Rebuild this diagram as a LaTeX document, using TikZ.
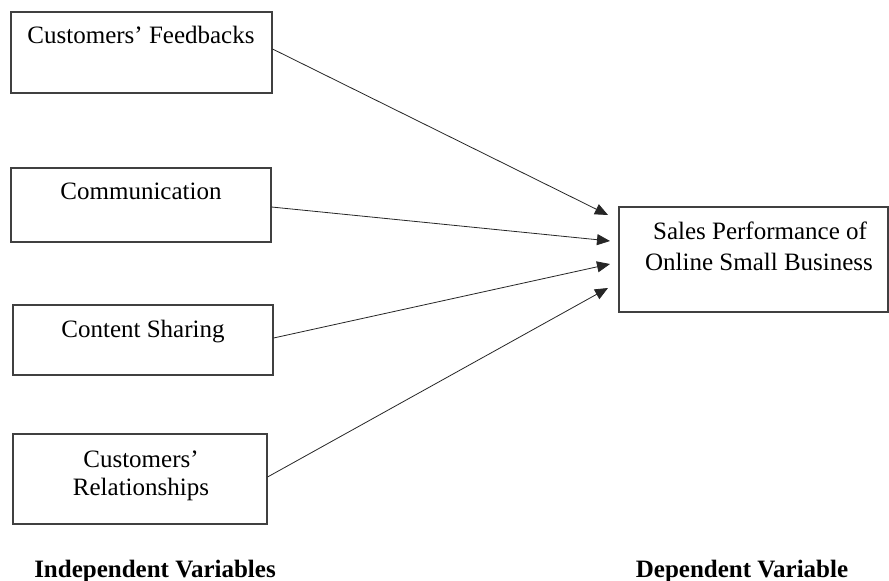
\documentclass[tikz,border=0pt]{standalone}
\usepackage{fontspec}
\setmainfont{Liberation Serif}
\usetikzlibrary{arrows.meta}
\begin{document}
\begin{tikzpicture}[x=1pt,y=-1pt,
  boxstyle/.style={draw=black!75,line width=1.1pt,inner sep=0pt},
  txt/.style={anchor=base,inner sep=0pt,font=\fontsize{25}{29}\selectfont},
  lbl/.style={anchor=base,inner sep=0pt,font=\fontsize{25}{29}\selectfont\bfseries},
  conn/.style={draw=black!85,line width=0.8pt,-{Triangle[length=13pt,width=11pt]}}]
\useasboundingbox (0,0) rectangle (889,581);
\fill[white] (0,0) rectangle (889,581);
% boxes
\node[boxstyle,minimum width=261pt,minimum height=81pt] (b1) at (141.5,52.5) {};
\node[boxstyle,minimum width=260pt,minimum height=74pt] (b2) at (141,205) {};
\node[boxstyle,minimum width=260pt,minimum height=70pt] (b3) at (143,340) {};
\node[boxstyle,minimum width=254pt,minimum height=90pt] (b4) at (140,479) {};
\node[boxstyle,minimum width=269pt,minimum height=105pt] (b5) at (753.5,259.5) {};
% texts
\node[txt] (t1) at (141,43) {Customers’ Feedbacks};
\node[txt] (t2) at (141,199) {Communication};
\node[txt] (t3) at (143,337) {Content Sharing};
\node[txt] (t4a) at (141,467) {Customers’};
\node[txt] (t4b) at (141,495) {Relationships};
\node[txt] (t5a) at (760,239) {Sales Performance of};
\node[txt] (t5b) at (759,270) {Online Small Business};
\node[lbl] (l1) at (155,577) {Independent Variables};
\node[lbl] (l2) at (742,577) {Dependent Variable};
% arrow tips
\coordinate (e1) at (608,215);
\coordinate (e2) at (610,241);
\coordinate (e3) at (610,264);
\coordinate (e4) at (608,288);
\coordinate (s1) at (b1.east |- 0,49);
\coordinate (s2) at (b2.east |- 0,207);
\coordinate (s3) at (b3.east |- 0,338);
\coordinate (s4) at (b4.east |- 0,477);
\draw[conn] (s1) -- (e1);
\draw[conn] (s2) -- (e2);
\draw[conn] (s3) -- (e3);
\draw[conn] (s4) -- (e4);
\end{tikzpicture}
\end{document}
